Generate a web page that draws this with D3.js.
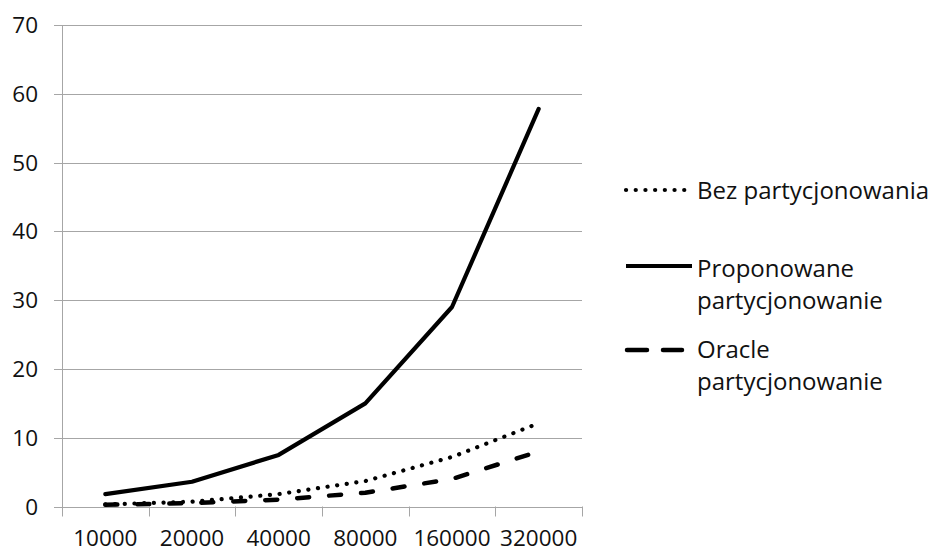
<!DOCTYPE html>
<html><head><meta charset="utf-8">
<script src="https://cdn.jsdelivr.net/npm/d3@7"></script>
<style>body{margin:0;background:#fff}svg{display:block}text{font-family:"Open Sans",sans-serif;fill:#111}</style>
</head><body>
<svg id="c" width="929" height="552"></svg>
<script>
const categories = ["10000","20000","40000","80000","160000","320000"];
const bezPartycjonowania = [0.3, 0.7, 1.8, 3.7, 7.2, 12.1];
const proponowane = [1.8, 3.6, 7.5, 15.0, 29.0, 57.8];
const oracle = [0.25, 0.5, 1.0, 2.0, 4.0, 8.0];
const yTicks = [0,10,20,30,40,50,60,70];
const seriesNames = ["Bez partycjonowania", "Proponowane partycjonowanie", "Oracle partycjonowanie"];

const svg = d3.select("#c");
const L = 62, R = 582, T = 25, B = 506.5;
const x = d3.scaleBand().domain(categories).range([L, R]);
const y = d3.scaleLinear().domain([0,70]).range([B, T]);
const fs = "22.5px", lfs = "24px";

// gridlines
svg.append("g").selectAll("line").data(yTicks).join("line")
  .attr("x1", L - 8).attr("x2", R).attr("y1", d=>Math.round(y(d))+0.5).attr("y2", d=>Math.round(y(d))+0.5)
  .attr("stroke", "#a6a6a6").attr("stroke-width", 1);
// y axis line
svg.append("line").attr("x1", L+0.5).attr("x2", L+0.5).attr("y1", T).attr("y2", B+9)
  .attr("stroke", "#a6a6a6");
// x ticks
const xb = [...categories.map(c=>x(c)), R];
svg.append("g").selectAll("line").data(xb).join("line")
  .attr("x1", d=>Math.round(d)+0.5).attr("x2", d=>Math.round(d)+0.5)
  .attr("y1", B).attr("y2", B+10).attr("stroke", "#a6a6a6");

// y labels
svg.append("g").selectAll("text").data(yTicks).join("text")
  .attr("x", 38).attr("y", d=>y(d)).attr("dy", "0.36em").attr("text-anchor","end")
  .style("font-size", fs).text(d=>d);
// x labels
svg.append("g").selectAll("text").data(categories).join("text")
  .attr("x", d=>x(d)+x.bandwidth()/2).attr("y", 546).attr("text-anchor","middle")
  .style("font-size", fs).text(d=>d);

const line = d3.line().x((d,i)=>x(categories[i])+x.bandwidth()/2).y(d=>y(d));
const styles = [
  {data: bezPartycjonowania, dash: "0.1 9.6", w: 4.2},
  {data: proponowane, dash: null, w: 4.2},
  {data: oracle, dash: "12 20", w: 4.5}
];
styles.forEach(s=>{
  svg.append("path").attr("d", line(s.data)).attr("fill","none").attr("stroke","#000")
    .attr("stroke-width", s.w).attr("stroke-linecap","round").attr("stroke-linejoin","round")
    .attr("stroke-dasharray", s.dash);
});

// legend
const lg = svg.append("g");
const leg = [
  {y: 190, dash: "0.1 9.6", w: 4.2, lines: ["Bez partycjonowania"], ty: 190, x1: 626, x2: 690},
  {y: 266, dash: null, w: 4.2, lines: ["Proponowane", "partycjonowanie"], ty: 268, x1: 626, x2: 692},
  {y: 350, dash: "20 16", w: 4.5, lines: ["Oracle", "partycjonowanie"], ty: 349, x1: 627, x2: 682}
];
leg.forEach((l, i)=>{
  lg.append("line").attr("x1", l.x1).attr("x2", l.x2).attr("y1", l.y).attr("y2", l.y)
    .attr("stroke","#000").attr("stroke-width", l.w).attr("stroke-dasharray", l.dash)
    .attr("stroke-linecap", l.dash ? "round" : "butt");
  l.lines.forEach((t, j)=>{
    lg.append("text").attr("x", 697).attr("y", l.ty + j*32).attr("dy","0.36em")
      .style("font-size", lfs).text(t);
  });
});
</script>
</body></html>
